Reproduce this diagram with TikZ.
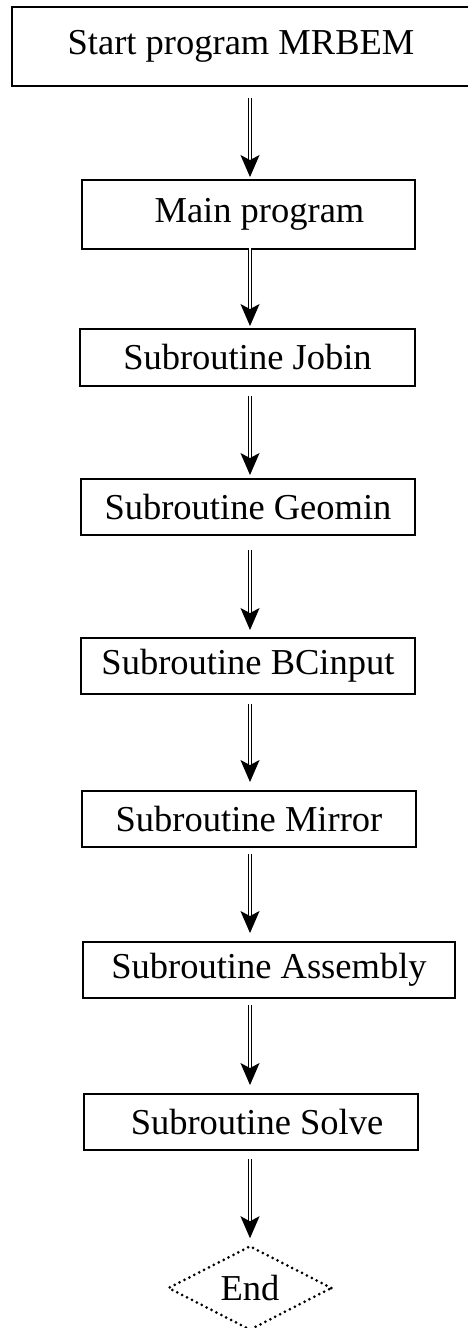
\documentclass[tikz,border=0pt]{standalone}
\usepackage{fontspec}
\setmainfont{Liberation Serif}
\usetikzlibrary{arrows.meta,shapes.geometric}

\tikzset{
	stepbox/.style = {draw, line width = 1.9pt, inner sep = 0pt, font = \fontsize{36.5}{43}\selectfont},
	flow/.style = {double, double distance = 1.8pt, line width = 1.5pt,
		-{Stealth[length = 22pt, width = 19pt, inset = 5pt]}},
	endbox/.style = {diamond, draw, line width = 3pt, line cap = round,
		dash pattern = on 0pt off 5.5pt, inner sep = 0pt,
		minimum width = 164pt, minimum height = 80pt, font = \fontsize{36.5}{43}\selectfont}
}

\begin{document}
\begin{tikzpicture}[x = 1pt, y = -1pt]
	\useasboundingbox (0, 0) rectangle (467, 1328);
	\coordinate (spine) at (250, 0);
	
	\node[stepbox, minimum width = 458pt, minimum height = 79pt] (start) at (241, 46.5) {Start program MRBEM};
	\node[stepbox, minimum width = 333pt, minimum height = 69pt] (main) at (248.5, 214.5) {\hspace{22pt}Main program};
	\node[stepbox, minimum width = 335pt, minimum height = 57pt] (jobin) at (247.5, 357.5) {Subroutine Jobin};
	\node[stepbox, minimum width = 334pt, minimum height = 56pt] (geomin) at (248, 507) {Subroutine Geomin};
	\node[stepbox, minimum width = 334pt, minimum height = 56pt] (bcinput) at (248, 666) {Subroutine BCinput};
	\node[stepbox, minimum width = 334pt, minimum height = 56pt] (mirror) at (249, 819) {Subroutine Mirror};
	\node[stepbox, minimum width = 372pt, minimum height = 56pt] (assembly) at (269, 970) {Subroutine Assembly};
	\node[stepbox, minimum width = 334pt, minimum height = 56pt] (solve) at (251, 1122) {\hspace{12pt}Subroutine Solve};
	\node[endbox] (end) at (250, 1288) {End};
	
	\draw[flow, shorten < = 11pt, shorten > = 2pt] (start.south -| spine) -- (main.north -| spine);
	\draw[flow, shorten < = -2pt, shorten > = 2pt] (main.south -| spine) -- (jobin.north -| spine);
	\draw[flow, shorten < = 9pt, shorten > = 3pt] (jobin.south -| spine) -- (geomin.north -| spine);
	\draw[flow, shorten < = 14pt, shorten > = 7pt] (geomin.south -| spine) -- (bcinput.north -| spine);
	\draw[flow, shorten < = 9pt, shorten > = 8pt] (bcinput.south -| spine) -- (mirror.north -| spine);
	\draw[flow, shorten < = 6pt, shorten > = 8pt] (mirror.south -| spine) -- (assembly.north -| spine);
	\draw[flow, shorten < = 6pt, shorten > = 8pt] (assembly.south -| spine) -- (solve.north -| spine);
	\draw[flow, shorten < = 8pt, shorten > = 6pt] (solve.south -| spine) -- (end.north);
\end{tikzpicture}
\end{document}
